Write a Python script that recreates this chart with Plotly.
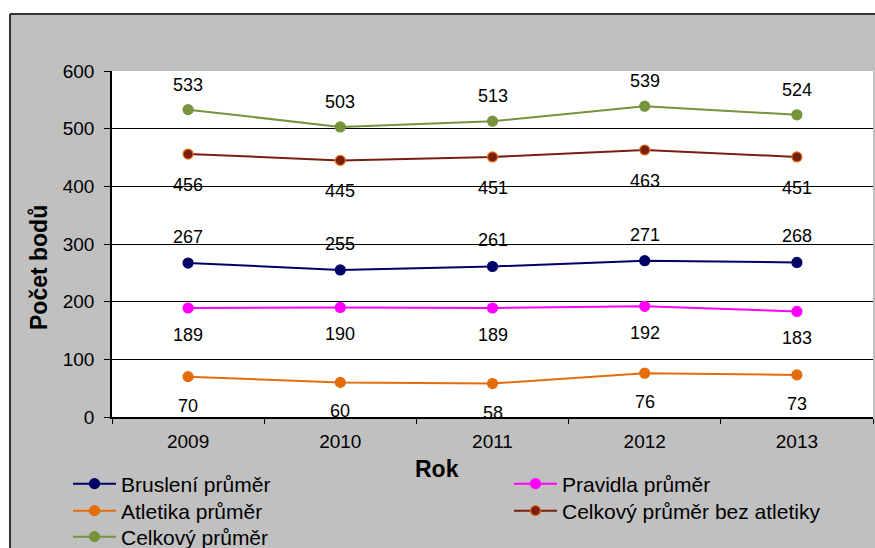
import plotly.graph_objects as go

years = ["2009", "2010", "2011", "2012", "2013"]
bruslení = [267, 255, 261, 271, 268]
pravidla = [189, 190, 189, 192, 183]
atletika = [70, 60, 58, 76, 73]
bez_atletiky = [456, 445, 451, 463, 451]
celkovy = [533, 503, 513, 539, 524]

# name, values, line colour, marker edge, label shift, legend id, legend pos (px)
series = [
    ("Bruslení průměr", bruslení, "#000066", "#000066", 26, "legend", (68, 484)),
    ("Pravidla průměr", pravidla, "#ff00ff", "#ff00ff", -27, "legend2", (509, 484)),
    ("Atletika průměr", atletika, "#e46c0a", "#e46c0a", -29, "legend3", (68, 511)),
    ("Celkový průměr bez atletiky", bez_atletiky, "#7a1f10", "#e0701a", -31, "legend4", (509, 511)),
    ("Celkový průměr", celkovy, "#77933c", "#77933c", 25, "legend5", (68, 537)),
]

W, H = 875, 548
L, R, T, B = 112, 2, 71, 131
pw, ph = W - L - R, H - T - B
FONT = "Liberation Sans, Arial"


def px(x):
    return (x - L) / pw


def py(y):
    return (H - B - y) / ph


fig = go.Figure()
annotations = []
legends = {}
for name, vals, col, edge, shift, leg, (lx, ly) in series:
    fig.add_trace(go.Scatter(
        x=years, y=vals, name=name, mode="lines+markers", legend=leg,
        line=dict(color=col, width=2),
        marker=dict(size=10, color=col, line=dict(color=edge, width=1.2)),
    ))
    legends[leg] = dict(
        orientation="v", xref="container", yref="container",
        x=lx / W, y=1 - ly / H, xanchor="left", yanchor="middle",
        itemwidth=43, bgcolor="rgba(0,0,0,0)",
        font=dict(size=21, family=FONT, color="black"),
        itemclick=False, itemdoubleclick=False,
    )
    for i, yv in enumerate(vals):
        annotations.append(dict(
            x=i, y=yv, xref="x", yref="y", text=str(yv), showarrow=False,
            xanchor="center", yanchor="middle",
            yshift=shift, font=dict(family=FONT, size=18, color="black"),
        ))

annotations.append(dict(
    x=px(437), y=py(469), xref="paper", yref="paper", text="<b>Rok</b>",
    xanchor="center", yanchor="middle",
    showarrow=False, font=dict(family=FONT, size=23, color="black"),
))
annotations.append(dict(
    x=px(39), y=py(268), xref="paper", yref="paper", text="<b>Počet bodů</b>",
    xanchor="center", yanchor="middle",
    showarrow=False, textangle=-90,
    font=dict(family=FONT, size=23, color="black"),
))

shapes = [
    dict(type="rect", xref="paper", yref="paper", x0=px(-20), x1=px(10), y0=py(600), y1=py(-20),
         fillcolor="white", line=dict(width=0), layer="above"),
    dict(type="rect", xref="paper", yref="paper", x0=px(-20), x1=px(900), y0=py(14), y1=py(-20),
         fillcolor="white", line=dict(width=0), layer="above"),
    dict(type="line", xref="paper", yref="paper", x0=px(10), x1=px(900), y0=py(14), y1=py(14),
         line=dict(color="#333333", width=2), layer="above"),
    dict(type="line", xref="paper", yref="paper", x0=px(10), x1=px(10), y0=py(14), y1=py(600),
         line=dict(color="#333333", width=2), layer="above"),
]

fig.update_layout(
    width=W, height=H,
    margin=dict(l=L, r=R, t=T, b=B, autoexpand=False),
    paper_bgcolor="#c0c0c0",
    plot_bgcolor="white",
    font=dict(family=FONT, size=18, color="black"),
    showlegend=True,
    annotations=annotations,
    shapes=shapes,
    xaxis=dict(
        type="category", showgrid=False, showline=True, linecolor="black", linewidth=1.5,
        ticks="outside", tickson="boundaries", ticklen=5, tickcolor="black",
        tickfont=dict(size=19), range=[-0.5, 4.5], ticklabelstandoff=6,
        automargin=False,
    ),
    yaxis=dict(
        range=[0, 600], dtick=100, showgrid=True, gridcolor="black", gridwidth=1,
        showline=True, linecolor="black", linewidth=1.5, ticks="outside", ticklen=6,
        tickcolor="black", tickfont=dict(size=19), zeroline=False,
        ticklabelstandoff=6, automargin=False,
    ),
    **legends,
)

fig.write_html(
    "out.html",
    config={"displayModeBar": False},
    post_script="document.body.style.margin='0';document.body.style.overflow='hidden';",
)
